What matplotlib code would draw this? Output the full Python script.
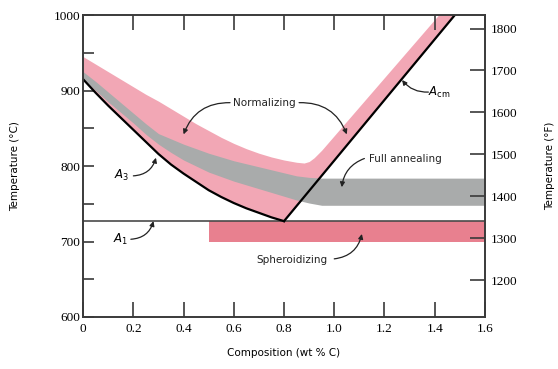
import numpy as np
import matplotlib
matplotlib.use("Agg")
import matplotlib.pyplot as plt

# composition (wt % C) and temperature (°C)
a3_comp = [0, 0.05, 0.1, 0.15, 0.2, 0.25, 0.3, 0.35, 0.4, 0.45, 0.5, 0.55,
           0.6, 0.65, 0.7, 0.75, 0.8]
a3_temp = [915, 897, 880, 864, 848, 832, 816, 802, 790, 779, 768, 759,
           751, 744, 738, 732, 727]

acm_comp = [0.8, 1.48]
acm_temp = [727, 1000]

a1_temp = 727

norm_comp = [0, 0.05, 0.1, 0.15, 0.2, 0.25, 0.3, 0.35, 0.4, 0.45, 0.5, 0.55,
             0.6, 0.65, 0.7, 0.75, 0.8, 0.85, 0.88, 0.9, 0.92, 0.95, 1.415, 1.48]
norm_upper = [945, 935, 925, 915, 905, 895, 886, 876, 866, 856, 847, 838,
              830, 823, 817, 812, 808, 805, 804, 806, 811, 821, 1000, 1000]
norm_lower = [915, 897, 880, 864, 848, 832, 816, 802, 790, 779, 768, 759,
              751, 744, 738, 732, 727, 747, 759, 767, 775, 787, 974, 1000]

anneal_comp = [0, 0.05, 0.1, 0.15, 0.2, 0.25, 0.3, 0.35, 0.4, 0.45, 0.5, 0.55,
               0.6, 0.65, 0.7, 0.75, 0.8, 0.85, 0.9, 0.95, 1.6]
anneal_upper = [925, 912, 898, 884, 870, 856, 843, 836, 829, 823, 817, 812,
                807, 803, 799, 795, 791, 787, 785, 784, 784]
anneal_lower = [915, 900, 885, 871, 857, 842, 829, 818, 808, 800, 792, 786,
                780, 775, 770, 765, 760, 755, 751, 748, 748]

spher_comp = [0.5, 1.6]
spher_lower = [700, 700]
spher_upper = [727, 727]

x_ticks = [0, 0.2, 0.4, 0.6, 0.8, 1.0, 1.2, 1.4, 1.6]
x_labels = ["0", "0.2", "0.4", "0.6", "0.8", "1.0", "1.2", "1.4", "1.6"]
c_ticks = [600, 700, 800, 900, 1000]
f_ticks = [1200, 1300, 1400, 1500, 1600, 1700, 1800]

pink = "#f2a7b5"
gray = "#a9abab"
red = "#e8808f"
edge = "#3a3a3a"
serif = "Liberation Serif"
sans = "DejaVu Sans"

fig = plt.figure(figsize=(5.58, 3.69), dpi=100)
ax = fig.add_axes([0.149, 0.141, 0.72, 0.818])

ax.fill_between(norm_comp, norm_lower, norm_upper, color=pink, lw=0)
ax.fill_between(anneal_comp, anneal_lower, anneal_upper, color=gray, lw=0)
ax.fill_between(spher_comp, spher_lower, spher_upper, color=red, lw=0)
ax.axhline(a1_temp, color="#4a4a4a", lw=1.2)
ax.plot(a3_comp, a3_temp, color="black", lw=1.6, solid_joinstyle="miter")
ax.plot(acm_comp, acm_temp, color="black", lw=1.6)

ax.set_xlim(0, 1.6)
ax.set_ylim(600, 1000)

for s in ax.spines.values():
    s.set_color(edge)
    s.set_linewidth(1.4)

ax.set_xticks(x_ticks)
ax.set_xticklabels(x_labels, fontfamily=serif, fontsize=9.5)
ax.set_yticks(c_ticks)
ax.set_yticklabels([str(t) for t in c_ticks], fontfamily=serif, fontsize=9.5)
ax.set_yticks([650, 750, 850, 950], minor=True)
ax.tick_params(axis="x", direction="in", length=11, width=1.2, color=edge,
               top=True, pad=4)
ax.tick_params(axis="y", which="both", direction="in", length=8, width=1.2,
               color=edge, pad=2)

ax.set_xlabel("Composition (wt % C)", fontfamily=sans, fontsize=7.5, labelpad=10)
ax.set_ylabel("Temperature (°C)", fontfamily=sans, fontsize=7.5, labelpad=24)

ax2 = ax.twinx()
ax2.set_ylim(600 * 9 / 5 + 32, 1000 * 9 / 5 + 32)
ax2.set_yticks(f_ticks)
ax2.set_yticklabels([str(t) for t in f_ticks], fontfamily=serif, fontsize=9.5)
ax2.tick_params(axis="y", direction="in", length=11, width=1.2, color=edge, pad=4)
for s in ax2.spines.values():
    s.set_visible(False)
ax2.set_ylabel("Temperature (°F)", fontfamily=sans, fontsize=7.5, labelpad=20)

txt = dict(fontfamily=sans, fontsize=7.5, color="#222222")
arr = dict(arrowstyle="-|>", color="#222222", lw=0.9, mutation_scale=7,
           shrinkA=0, shrinkB=0)

ax.text(0.72, 884, "Normalizing", ha="center", va="center", **txt)
ax.annotate("", xy=(0.40, 842), xytext=(0.585, 884),
            arrowprops=dict(connectionstyle="arc3,rad=0.35", **arr))
ax.annotate("", xy=(1.05, 842), xytext=(0.86, 884),
            arrowprops=dict(connectionstyle="arc3,rad=-0.35", **arr))

ax.text(1.285, 810, "Full annealing", ha="center", va="center", **txt)
ax.annotate("", xy=(1.03, 772), xytext=(1.12, 810),
            arrowprops=dict(connectionstyle="arc3,rad=0.3", **arr))

ax.text(0.83, 675, "Spheroidizing", ha="center", va="center", **txt)
ax.annotate("", xy=(1.11, 710), xytext=(1.0, 677),
            arrowprops=dict(connectionstyle="arc3,rad=0.35", **arr))

ax.text(0.155, 787, "$A_3$", ha="center", va="center", fontsize=8.5,
        fontfamily=serif)
ax.annotate("", xy=(0.29, 811), xytext=(0.2, 787),
            arrowprops=dict(connectionstyle="arc3,rad=0.35", **arr))

ax.text(0.15, 703, "$A_1$", ha="center", va="center", fontsize=8.5,
        fontfamily=serif)
ax.annotate("", xy=(0.28, 727), xytext=(0.19, 703),
            arrowprops=dict(connectionstyle="arc3,rad=0.35", **arr))

ax.text(1.42, 898, "$A_{\\rm cm}$", ha="center", va="center", fontsize=8.5,
        fontfamily=serif)
ax.annotate("", xy=(1.27, 914), xytext=(1.375, 898),
            arrowprops=dict(connectionstyle="arc3,rad=-0.25", **arr))

fig.savefig("out.png", dpi=100)
